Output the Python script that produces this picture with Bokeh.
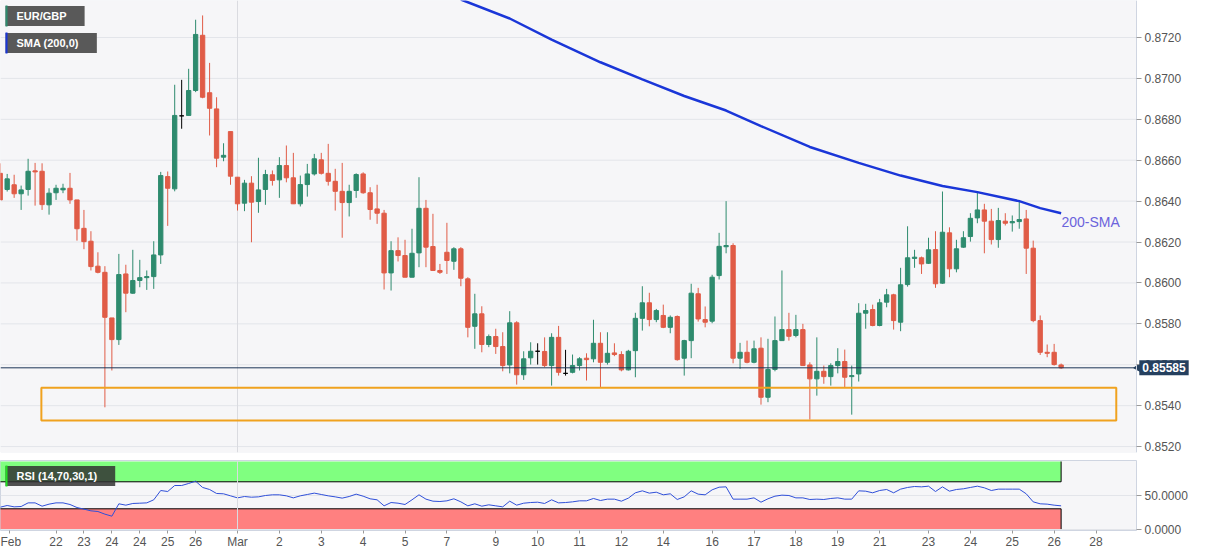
from bokeh.plotting import figure
from bokeh.layouts import column
from bokeh.models import (ColumnDataSource, FixedTicker, NumeralTickFormatter, Span,
                          Label, Range1d, LinearAxis, BoxAnnotation)
from bokeh.embed import file_html
from bokeh.resources import INLINE

# ---------------- data (EUR/GBP 4h candles) ----------------
opens = [0.86536, 0.86457, 0.86480, 0.86436, 0.86457, 0.86548, 0.86546, 0.86382, 0.86441, 0.86455,
         0.86463, 0.86406, 0.86267, 0.86204, 0.86082, 0.86052, 0.85829, 0.85723, 0.86044, 0.85950,
         0.86012, 0.86026, 0.86031, 0.86137, 0.86520, 0.86460, 0.86817, 0.86819, 0.86941, 0.87211,
         0.86930, 0.86851, 0.86615, 0.86740, 0.86517, 0.86390, 0.86488, 0.86398, 0.86457, 0.86529,
         0.86504, 0.86574, 0.86514, 0.86387, 0.86481, 0.86533, 0.86602, 0.86536, 0.86497, 0.86448,
         0.86393, 0.86452, 0.86533, 0.86441, 0.86362, 0.86341, 0.86049, 0.86158, 0.86134, 0.86028,
         0.86147, 0.86365, 0.86178, 0.86061, 0.86150, 0.86106, 0.86167, 0.86020, 0.85788, 0.85849,
         0.85699, 0.85738, 0.85689, 0.85599, 0.85805, 0.85551, 0.85634, 0.85666, 0.85665, 0.85596,
         0.85734, 0.85558, 0.85563, 0.85596, 0.85632, 0.85629, 0.85705, 0.85612, 0.85658, 0.85650,
         0.85575, 0.85669, 0.85827, 0.85903, 0.85821, 0.85841, 0.85783, 0.85836, 0.85632, 0.85718,
         0.85947, 0.85821, 0.85813, 0.86036, 0.86177, 0.86183, 0.85632, 0.85661, 0.85612, 0.85681,
         0.85441, 0.85577, 0.85718, 0.85772, 0.85743, 0.85772, 0.85599, 0.85531, 0.85568, 0.85542,
         0.85596, 0.85616, 0.85542, 0.85555, 0.85852, 0.85870, 0.85792, 0.85906, 0.85942, 0.85808,
         0.85992, 0.86120, 0.86123, 0.86096, 0.86163, 0.85999, 0.86245, 0.86069, 0.86175, 0.86227,
         0.86318, 0.86357, 0.86302, 0.86212, 0.86302, 0.86294, 0.86300, 0.86313, 0.86170, 0.85816,
         0.85661, 0.85661, 0.85599]
highs = [0.86585, 0.86533, 0.86529, 0.86476, 0.86607, 0.86587, 0.86585, 0.86463, 0.86480, 0.86485,
         0.86538, 0.86406, 0.86357, 0.86253, 0.86150, 0.86082, 0.85829, 0.86142, 0.86089, 0.86162,
         0.86113, 0.86061, 0.86204, 0.86543, 0.86545, 0.86969, 0.86993, 0.87047, 0.87287, 0.87308,
         0.87076, 0.86908, 0.86683, 0.86740, 0.86517, 0.86504, 0.86522, 0.86612, 0.86553, 0.86550,
         0.86615, 0.86672, 0.86636, 0.86525, 0.86582, 0.86631, 0.86636, 0.86680, 0.86558, 0.86587,
         0.86480, 0.86536, 0.86541, 0.86468, 0.86480, 0.86357, 0.86204, 0.86223, 0.86211, 0.86265,
         0.86517, 0.86406, 0.86338, 0.86093, 0.86294, 0.86175, 0.86175, 0.86028, 0.85947, 0.85886,
         0.85748, 0.85776, 0.85759, 0.85862, 0.85813, 0.85666, 0.85710, 0.85705, 0.85734, 0.85754,
         0.85790, 0.85673, 0.85650, 0.85637, 0.85656, 0.85820, 0.85759, 0.85759, 0.85705, 0.85666,
         0.85673, 0.85854, 0.85984, 0.85952, 0.85873, 0.85894, 0.85841, 0.85841, 0.85722, 0.85996,
         0.85976, 0.85885, 0.86040, 0.86245, 0.86400, 0.86194, 0.85707, 0.85718, 0.85718, 0.85734,
         0.85727, 0.85836, 0.86061, 0.85854, 0.85844, 0.85800, 0.85612, 0.85734, 0.85596, 0.85607,
         0.85681, 0.85674, 0.85596, 0.85901, 0.85898, 0.85894, 0.85922, 0.85971, 0.85947, 0.86074,
         0.86277, 0.86162, 0.86129, 0.86221, 0.86253, 0.86447, 0.86272, 0.86211, 0.86253, 0.86341,
         0.86448, 0.86387, 0.86362, 0.86367, 0.86341, 0.86330, 0.86406, 0.86357, 0.86207, 0.85841,
         0.85699, 0.85702, 0.85606]
lows = [0.86406, 0.86447, 0.86416, 0.86357, 0.86427, 0.86378, 0.86357, 0.86334, 0.86406, 0.86439,
        0.86387, 0.86207, 0.86165, 0.86061, 0.86047, 0.85392, 0.85572, 0.85697, 0.85857, 0.85947,
        0.85979, 0.85966, 0.85971, 0.86093, 0.86279, 0.86448, 0.86754, 0.86819, 0.86933, 0.86903,
        0.86721, 0.86566, 0.86595, 0.86480, 0.86354, 0.86351, 0.86199, 0.86343, 0.86382, 0.86476,
        0.86416, 0.86492, 0.86387, 0.86374, 0.86422, 0.86525, 0.86530, 0.86476, 0.86354, 0.86221,
        0.86325, 0.86416, 0.86436, 0.86309, 0.86289, 0.85968, 0.85963, 0.86105, 0.86028, 0.86028,
        0.86077, 0.86077, 0.86061, 0.86044, 0.86044, 0.86064, 0.85984, 0.85734, 0.85678, 0.85661,
        0.85686, 0.85653, 0.85568, 0.85558, 0.85503, 0.85526, 0.85601, 0.85601, 0.85588, 0.85498,
        0.85547, 0.85547, 0.85558, 0.85572, 0.85523, 0.85612, 0.85490, 0.85601, 0.85642, 0.85568,
        0.85572, 0.85539, 0.85767, 0.85788, 0.85808, 0.85779, 0.85754, 0.85620, 0.85547, 0.85632,
        0.85811, 0.85783, 0.85803, 0.86017, 0.86145, 0.85607, 0.85580, 0.85607, 0.85607, 0.85405,
        0.85417, 0.85568, 0.85718, 0.85718, 0.85734, 0.85596, 0.85332, 0.85449, 0.85507, 0.85498,
        0.85558, 0.85490, 0.85356, 0.85518, 0.85776, 0.85788, 0.85788, 0.85881, 0.85772, 0.85764,
        0.85982, 0.86074, 0.86044, 0.86093, 0.85976, 0.85996, 0.86028, 0.86052, 0.86172, 0.86202,
        0.86292, 0.86145, 0.86188, 0.86172, 0.86281, 0.86251, 0.86265, 0.86044, 0.85808, 0.85648,
        0.85637, 0.85596, 0.85580]
closes = [0.86406, 0.86509, 0.86436, 0.86455, 0.86546, 0.86543, 0.86383, 0.86439, 0.86463, 0.86463,
          0.86406, 0.86265, 0.86202, 0.86080, 0.86052, 0.85832, 0.85723, 0.86041, 0.85950, 0.86012,
          0.86026, 0.86031, 0.86137, 0.86525, 0.86463, 0.86819, 0.86817, 0.86941, 0.87215, 0.86908,
          0.86854, 0.86610, 0.86624, 0.86522, 0.86387, 0.86488, 0.86395, 0.86455, 0.86530, 0.86501,
          0.86574, 0.86514, 0.86387, 0.86481, 0.86533, 0.86607, 0.86536, 0.86497, 0.86448, 0.86393,
          0.86448, 0.86530, 0.86441, 0.86359, 0.86341, 0.86049, 0.86158, 0.86134, 0.86028, 0.86145,
          0.86365, 0.86175, 0.86061, 0.86052, 0.86110, 0.86167, 0.86023, 0.85783, 0.85849, 0.85699,
          0.85738, 0.85689, 0.85596, 0.85805, 0.85551, 0.85629, 0.85666, 0.85666, 0.85596, 0.85734,
          0.85563, 0.85558, 0.85596, 0.85629, 0.85625, 0.85705, 0.85612, 0.85656, 0.85650, 0.85575,
          0.85666, 0.85827, 0.85903, 0.85821, 0.85865, 0.85783, 0.85832, 0.85625, 0.85718, 0.85950,
          0.85824, 0.85808, 0.86028, 0.86179, 0.86183, 0.85632, 0.85661, 0.85612, 0.85678, 0.85441,
          0.85577, 0.85718, 0.85772, 0.85739, 0.85772, 0.85596, 0.85531, 0.85568, 0.85542, 0.85596,
          0.85616, 0.85539, 0.85547, 0.85852, 0.85865, 0.85792, 0.85903, 0.85942, 0.85816, 0.85991,
          0.86123, 0.86126, 0.86093, 0.86162, 0.85996, 0.86248, 0.86069, 0.86167, 0.86221, 0.86316,
          0.86357, 0.86302, 0.86212, 0.86305, 0.86292, 0.86300, 0.86310, 0.86170, 0.85816, 0.85661,
          0.85656, 0.85601, 0.85585]
rsi = [32.4, 34.9, 32.9, 33.4, 38.8, 38.8, 33.9, 36.9, 38.8, 38.8,
       36.4, 31.9, 29.5, 27.0, 26.0, 22.1, 19.1, 37.4, 35.4, 37.9,
       38.3, 38.8, 43.3, 57.1, 55.6, 64.5, 64.5, 67.5, 70.9, 61.6,
       58.6, 52.7, 52.2, 49.2, 46.2, 48.2, 47.2, 47.7, 49.7, 50.7,
       50.7, 49.2, 46.2, 49.2, 51.2, 53.2, 51.2, 49.2, 47.7, 45.8,
       48.2, 51.7, 48.7, 44.8, 43.3, 34.4, 39.3, 38.3, 36.4, 43.3,
       50.7, 44.3, 41.3, 40.8, 41.8, 44.8, 40.3, 34.4, 37.4, 33.9,
       35.9, 34.4, 32.9, 41.3, 35.4, 38.3, 39.3, 39.8, 37.9, 43.3,
       38.8, 39.3, 40.3, 41.8, 41.8, 45.3, 42.3, 44.3, 44.3, 41.3,
       45.8, 53.7, 56.6, 53.2, 54.6, 50.7, 52.2, 43.8, 47.7, 56.6,
       51.7, 50.7, 58.1, 62.0, 62.5, 44.3, 44.3, 44.3, 46.2, 39.8,
       44.8, 48.7, 50.2, 49.7, 46.2, 46.2, 43.8, 44.3, 43.8, 45.3,
       46.2, 44.3, 44.3, 56.6, 56.1, 53.7, 57.1, 58.6, 53.7, 59.1,
       61.6, 63.0, 62.5, 63.5, 55.6, 62.5, 56.1, 58.6, 59.6, 61.6,
       63.5, 61.1, 57.1, 59.1, 59.1, 59.1, 59.1, 52.2, 40.3, 37.4,
       36.9, 35.4, 34.4]
sma_index = [66, 73, 79, 86, 92, 98, 104, 109, 116, 123, 129, 135, 140, 146, 149, 152]
sma_values = [0.87386, 0.87293, 0.87190, 0.87079, 0.86995, 0.86914, 0.86843, 0.86767,
              0.86665, 0.86587, 0.86525, 0.86474, 0.86444, 0.86400, 0.86366, 0.86341]
last_price = 0.85585
zone_top, zone_bottom = 0.85488, 0.85327
zone_left, zone_right = 5.9, 159.9
rsi_upper, rsi_lower = 70, 30
price_ticks = [0.8520, 0.8540, 0.8560, 0.8580, 0.8600, 0.8620, 0.8640,
               0.8660, 0.8680, 0.8700, 0.8720]
rsi_ticks = [0, 50]
x_tick_pos = [1.33, 8, 12, 16, 20, 24, 28, 34, 40, 46, 52, 58, 64, 71, 77, 83, 89, 95,
              102, 108, 114, 120, 126, 133, 139, 145, 151, 157]
x_tick_labels = ["Feb", "22", "23", "24", "24", "25", "26", "Mar", "2", "3", "4", "5", "7",
                 "9", "10", "11", "12", "14", "16", "17", "18", "19", "21", "23", "24", "25",
                 "26", "28"]
month_start = 34

# ---------------- layout / styling ----------------
FONT = "Liberation Sans"
GREEN = "#2e8b6e"
RED = "#e05c47"
BG = "#f6f6f8"
GRID = "#e3e5ea"
OUTLINE = "#cfd5e1"
AXIS_TXT = "#555555"
SMA_BLUE = "#1a36d8"
TAG = "#25405f"

X_START, PLOT_RIGHT, X_END = 0.044, 162.8, 172.97   # plot area ends at PLOT_RIGHT, axis beyond
W, PLOT_W = 1207, 1136

n = len(opens)
idx = list(range(n))
colors = [GREEN if c > o else (RED if c < o else "black") for o, c in zip(opens, closes)]
src = ColumnDataSource(dict(
    x=idx, high=highs, low=lows,
    top=[max(o, c) for o, c in zip(opens, closes)],
    bottom=[min(o, c) for o, c in zip(opens, closes)],
    color=colors))


def style_axis(ax, ticks, fmt):
    ax.ticker = FixedTicker(ticks=ticks)
    ax.formatter = NumeralTickFormatter(format=fmt)
    ax.major_label_text_font = FONT
    ax.major_label_text_font_size = "12px"
    ax.major_label_text_color = AXIS_TXT
    ax.major_tick_line_color = "#9a9a9a"
    ax.major_tick_out = 5
    ax.major_tick_in = 0
    ax.minor_tick_line_color = None
    ax.major_label_standoff = 3


# ---------------- main price panel ----------------
# the frame spans the full width so that the last-price tag can sit over the axis strip
Y0, Y1 = 0.85171, 0.87381
p = figure(frame_width=W, frame_height=452, x_range=Range1d(X_START, X_END),
           y_range=Range1d(Y0, Y1), x_axis_location=None, y_axis_location=None,
           output_backend="svg", toolbar_location=None, min_border_left=0, min_border_top=0,
           min_border_bottom=4, min_border_right=0, background_fill_color="white",
           border_fill_color="white", outline_line_color=None)
p.grid.grid_line_color = None
p.add_layout(BoxAnnotation(left=None, right=PLOT_RIGHT, top=None, bottom=None,
                           fill_color=BG, fill_alpha=1.0, line_color=OUTLINE,
                           line_width=1, level="image"))
p.segment(x0=[X_START] * len(price_ticks), x1=[PLOT_RIGHT] * len(price_ticks),
          y0=price_ticks, y1=price_ticks, line_color=GRID, line_width=1)
p.segment(x0=[month_start], x1=[month_start], y0=[Y0], y1=[Y1],
          line_color="#dadbe0", line_width=1)
ya = LinearAxis(fixed_location=PLOT_RIGHT)
style_axis(ya, price_ticks, "0.0000")
ya.axis_line_color = OUTLINE
p.add_layout(ya, "right")

# candles
p.segment(x0="x", y0="low", x1="x", y1="high", color="color", line_width=1, source=src)
p.vbar(x="x", width=0.62, top="top", bottom="bottom", fill_color="color",
       line_color="color", line_width=1, source=src)

# 200 SMA
p.line(sma_index, sma_values, line_color=SMA_BLUE, line_width=2.5)
p.add_layout(Label(x=152.05, y=0.86300, text="200-SMA", text_color="#6b63dc",
                   text_font=FONT, text_font_size="14px",
                   text_baseline="middle", text_align="left"))

# support zone
p.quad(left=[zone_left], right=[zone_right], top=[zone_top], bottom=[zone_bottom],
       fill_color=None, line_color="#f0a21f", line_width=2)

# last price line and tag
p.segment(x0=[X_START], x1=[PLOT_RIGHT], y0=[last_price], y1=[last_price],
          line_color="#1d3557", line_width=1)
p.scatter(x=[162.98], y=[last_price], marker="triangle", size=7, angle=1.5708,
          fill_color=TAG, line_color=TAG)
p.add_layout(Label(x=163.2, y=last_price, text=f"{last_price:.5f}", text_color="white",
                   text_font=FONT, text_font_size="12px", text_font_style="bold",
                   text_baseline="middle", text_align="left",
                   background_fill_color=TAG,
                   padding=dict(left=3, right=3, top=3, bottom=3)))

# legend boxes (instrument and indicator tags)
for ytxt, txt, bar_top, bar_bot, bar_col in [(0.87305, "EUR/GBP", 0.87357, 0.87254, GREEN),
                                             (0.87173, "SMA (200,0)", 0.87225, 0.87122, SMA_BLUE)]:
    p.add_layout(Label(x=0.76, y=ytxt, text=txt, text_color="white",
                       text_font=FONT, text_font_size="11px", text_font_style="bold",
                       text_baseline="middle", text_align="left",
                       background_fill_color="#595959",
                       padding=dict(left=11, right=18, top=4, bottom=4)))
    p.add_layout(BoxAnnotation(left=0.76, right=1.05, top=bar_top, bottom=bar_bot,
                               fill_color=bar_col, fill_alpha=1.0, line_color=None))

# ---------------- RSI panel ----------------
R0, R1 = -2.1, 101.5
p2 = figure(frame_width=PLOT_W, frame_height=70, x_range=Range1d(X_START, PLOT_RIGHT),
            y_range=Range1d(R0, R1), y_axis_location="right", output_backend="svg",
            toolbar_location=None, min_border_left=0, min_border_top=4, min_border_bottom=0,
            min_border_right=W - PLOT_W, background_fill_color=BG, border_fill_color="white",
            outline_line_color=OUTLINE)
p2.xgrid.grid_line_color = None
p2.ygrid.grid_line_color = GRID
ya2 = p2.yaxis[0]
style_axis(ya2, rsi_ticks, "0.0000")
ya2.axis_line_color = None
p2.add_layout(Span(location=month_start, dimension="height", line_color="#dadbe0",
                   line_width=1))

xa = p2.xaxis[0]
xa.ticker = FixedTicker(ticks=x_tick_pos)
xa.major_label_overrides = {t: l for t, l in zip(x_tick_pos, x_tick_labels)}
xa.major_label_text_font = FONT
xa.major_label_text_font_size = "12px"
xa.major_label_text_color = AXIS_TXT
xa.axis_line_color = None
xa.major_tick_line_color = "#9a9a9a"
xa.major_tick_out = 3
xa.major_tick_in = 0
xa.minor_tick_line_color = None
xa.major_label_standoff = 1

last_i = n - 1
p2.quad(left=[-2], right=[last_i], bottom=[rsi_upper], top=[100], fill_color="#80ff80",
        line_color=None)
p2.quad(left=[-2], right=[last_i], bottom=[0], top=[rsi_lower], fill_color="#ff8080",
        line_color=None)
p2.multi_line(xs=[[-2, last_i, last_i], [-2, last_i, last_i]],
              ys=[[rsi_upper, rsi_upper, 100], [rsi_lower, rsi_lower, 0]],
              line_color="black", line_width=1)
p2.line(idx, rsi, line_color="#2f4fd8", line_width=1)
p2.add_layout(Label(x=0.76, y=78.6, text="RSI (14,70,30,1)", text_color="white",
                    text_font=FONT, text_font_size="11px", text_font_style="bold",
                    text_baseline="middle", text_align="left",
                    background_fill_color="#333333", background_fill_alpha=0.85,
                    padding=dict(left=11, right=18, top=4, bottom=4)))
p2.add_layout(BoxAnnotation(left=0.76, right=1.05, top=94.1, bottom=63.0,
                            fill_color="#22dd22", fill_alpha=1.0, line_color=None))

layout = column(p, p2, spacing=0)
open("out.html", "w").write(file_html(layout, INLINE))
